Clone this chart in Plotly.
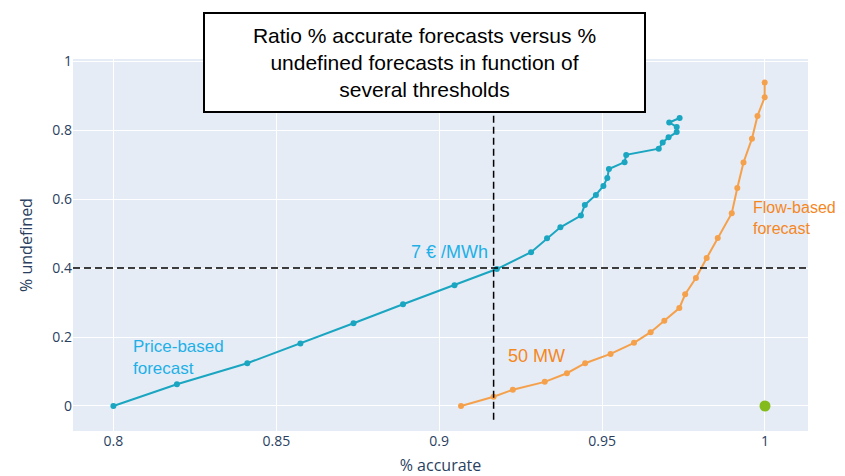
import plotly.graph_objects as go

# Price-based forecast (% accurate, % undefined)
price_accurate = [0.8, 0.8195, 0.8411, 0.8574, 0.8737, 0.8889, 0.9047, 0.9177, 0.9282,
                  0.9331, 0.9372, 0.9435, 0.9447, 0.9481, 0.9504, 0.9516, 0.9521, 0.9569,
                  0.9574, 0.9674, 0.9686, 0.9704, 0.9729, 0.9729, 0.9706, 0.9738]
price_undefined = [0.0, 0.063, 0.124, 0.181, 0.240, 0.295, 0.350, 0.397, 0.446,
                   0.486, 0.518, 0.552, 0.583, 0.612, 0.638, 0.661, 0.687, 0.707,
                   0.728, 0.746, 0.764, 0.779, 0.794, 0.809, 0.822, 0.835]

# Flow-based forecast
flow_accurate = [0.9067, 0.9167, 0.9226, 0.9324, 0.9392, 0.9448, 0.9526, 0.9598, 0.9649,
                 0.9691, 0.9737, 0.9755, 0.9788, 0.9821, 0.9855, 0.9898, 0.9915, 0.9934,
                 0.9960, 0.9977, 0.9999, 0.9999]
flow_undefined = [0.0, 0.027, 0.047, 0.070, 0.095, 0.124, 0.151, 0.183, 0.214,
                  0.247, 0.284, 0.324, 0.371, 0.429, 0.487, 0.559, 0.632, 0.706,
                  0.775, 0.841, 0.895, 0.938]

# Ideal point
ideal_accurate = [1.0]
ideal_undefined = [0.0]

# Threshold reference lines
threshold_accurate = 0.9167
threshold_undefined = 0.4

title_text = "Ratio % accurate forecasts versus %<br>undefined forecasts in function of<br>several thresholds"

TEAL = "#1aa5c0"
ORANGE = "#f5a14c"
BLUE_TXT = "#1eb0e6"
ORANGE_TXT = "#f5871f"

fig = go.Figure()
fig.add_trace(go.Scatter(x=price_accurate, y=price_undefined, mode="lines+markers",
                         line=dict(color=TEAL, width=2), marker=dict(color=TEAL, size=6),
                         showlegend=False))
fig.add_trace(go.Scatter(x=flow_accurate, y=flow_undefined, mode="lines+markers",
                         line=dict(color=ORANGE, width=2), marker=dict(color=ORANGE, size=6),
                         showlegend=False))
fig.add_trace(go.Scatter(x=ideal_accurate, y=ideal_undefined, mode="markers",
                         marker=dict(color="#84bb1c", size=11), showlegend=False))

fig.add_shape(type="line", xref="x", yref="y", x0=threshold_accurate, x1=threshold_accurate,
              y0=-0.04, y1=1.006, line=dict(color="black", width=1.5, dash="7px,4px"))
fig.add_shape(type="line", xref="paper", yref="y", x0=0, x1=1,
              y0=threshold_undefined, y1=threshold_undefined,
              line=dict(color="black", width=1.5, dash="7px,4px"))

font_fam = "Liberation Sans, Arial, sans-serif"
fig.add_annotation(text=title_text, xref="paper", yref="paper", x=0.478, y=0.99,
                   xanchor="center", yanchor="middle", showarrow=False,
                   font=dict(family=font_fam, size=21, color="black"),
                   bgcolor="white", bordercolor="black", borderwidth=2, borderpad=1,
                   width=437, height=95)
fig.add_annotation(text="7 € /MWh", xref="x", yref="y", x=0.9157, y=0.413,
                   xanchor="right", yanchor="bottom", showarrow=False,
                   font=dict(family=font_fam, size=18, color=BLUE_TXT))
fig.add_annotation(text="Price-based<br>forecast", xref="x", yref="y", x=0.8055, y=0.142,
                   xanchor="left", yanchor="middle", showarrow=False, align="left",
                   font=dict(family=font_fam, size=17, color=BLUE_TXT))
fig.add_annotation(text="50 MW", xref="x", yref="y", x=0.9204, y=0.145,
                   xanchor="left", yanchor="middle", showarrow=False,
                   font=dict(family=font_fam, size=18, color=ORANGE_TXT))
fig.add_annotation(text="Flow-based<br>forecast", xref="x", yref="y", x=0.9957, y=0.546,
                   xanchor="left", yanchor="middle", showarrow=False, align="left",
                   font=dict(family=font_fam, size=16, color=ORANGE_TXT))

# The page body adds an 8px offset; size the figure so the plot area lands where the reference has it.
fig.update_layout(
    template="plotly",
    width=837, height=468,
    margin=dict(l=65, r=37, t=51, b=45, autoexpand=False),
    xaxis=dict(title=dict(text="% accurate", font=dict(size=16)), range=[0.7876, 1.0132],
               tickvals=[0.8, 0.85, 0.9, 0.95, 1.0], ticktext=["0.8", "0.85", "0.9", "0.95", "1"],
               tickfont=dict(size=14), zeroline=False),
    yaxis=dict(title=dict(text="% undefined", font=dict(size=16)), range=[-0.0725, 1.006],
               tickvals=[0, 0.2, 0.4, 0.6, 0.8, 1.0], ticktext=["0", "0.2", "0.4", "0.6", "0.8", "1"],
               tickfont=dict(size=14), zeroline=False),
)

fig.write_html("out.html")
